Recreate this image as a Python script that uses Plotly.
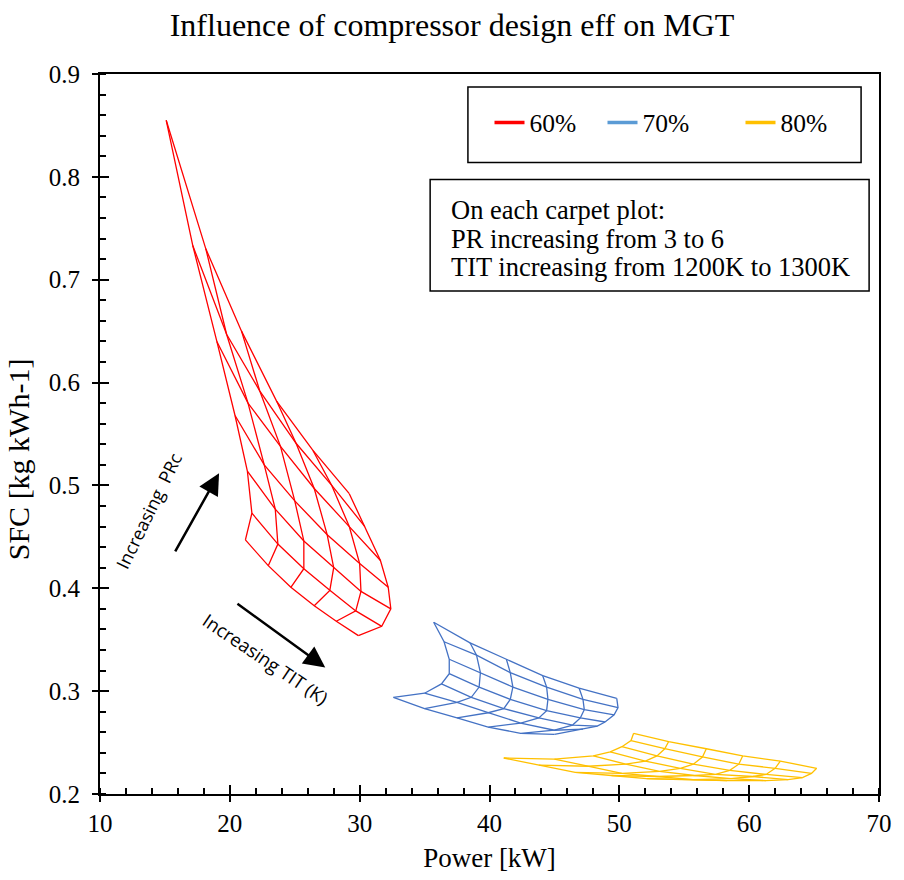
import plotly.graph_objects as go

PR_LEVELS = [3, 3.5, 4, 4.5, 5, 5.5, 6]
TIT_LEVELS = [1200, 1220, 1240, 1260, 1280, 1300]

# 60 % compressor efficiency (rows: PR 3 -> 6, columns: TIT 1200 -> 1300 K)
red_power = [
    [21.2, 22.96, 24.7, 26.5, 28.2, 29.9],
    [21.7, 23.7, 25.7, 27.7, 29.7, 31.7],
    [21.35, 23.5, 25.7, 28.0, 30.1, 32.4],
    [20.4, 22.65, 25.0, 27.5, 30.0, 32.2],
    [19.0, 21.4, 23.9, 26.5, 29.2, 31.6],
    [17.15, 19.75, 22.3, 25.1, 27.85, 30.4],
    [15.1, 18.15, 20.9, 23.6, 26.4, 29.2],
]
red_sfc = [
    [0.447, 0.422, 0.401, 0.383, 0.368, 0.354],
    [0.473, 0.443, 0.419, 0.398, 0.378, 0.363],
    [0.514, 0.477, 0.446, 0.420, 0.397, 0.380],
    [0.568, 0.520, 0.485, 0.452, 0.424, 0.401],
    [0.640, 0.580, 0.538, 0.497, 0.460, 0.427],
    [0.733, 0.647, 0.592, 0.541, 0.500, 0.460],
    [0.855, 0.730, 0.650, 0.582, 0.534, 0.492],
]

# 70 %
blue_power = [
    [32.6, 35.0, 37.5, 39.9, 42.4, 45.0],
    [35.0, 37.5, 39.9, 42.4, 45.0, 47.2],
    [36.3, 38.6, 41.1, 43.8, 46.4, 48.3],
    [36.9, 39.2, 41.6, 44.4, 47.0, 48.9],
    [36.9, 39.3, 41.8, 44.5, 47.3, 49.6],
    [36.5, 39.0, 41.6, 44.4, 47.2, 49.9],
    [35.7, 38.5, 41.3, 44.1, 46.9, 49.8],
]
blue_sfc = [
    [0.294, 0.283, 0.274, 0.265, 0.259, 0.258],
    [0.298, 0.289, 0.279, 0.269, 0.262, 0.263],
    [0.307, 0.294, 0.283, 0.274, 0.267, 0.266],
    [0.317, 0.304, 0.292, 0.281, 0.274, 0.270],
    [0.331, 0.318, 0.304, 0.292, 0.282, 0.277],
    [0.348, 0.335, 0.318, 0.304, 0.292, 0.284],
    [0.367, 0.347, 0.331, 0.315, 0.303, 0.293],
]

# 80 %
yellow_power = [
    [41.1, 43.8, 46.6, 49.4, 52.1, 54.8],
    [45.0, 47.6, 50.2, 52.9, 55.7, 58.3],
    [48.0, 50.5, 53.1, 55.8, 58.6, 61.3],
    [49.3, 52.0, 54.7, 57.4, 60.3, 63.0],
    [50.2, 52.9, 55.7, 58.5, 61.3, 64.1],
    [50.9, 53.5, 56.4, 59.2, 62.0, 64.8],
    [51.1, 53.8, 56.7, 59.5, 62.4, 65.2],
]
yellow_sfc = [
    [0.235, 0.228, 0.221, 0.218, 0.215, 0.214],
    [0.234, 0.227, 0.220, 0.217, 0.214, 0.213],
    [0.237, 0.229, 0.222, 0.218, 0.215, 0.213],
    [0.241, 0.232, 0.225, 0.219, 0.217, 0.214],
    [0.246, 0.237, 0.229, 0.223, 0.219, 0.216],
    [0.252, 0.244, 0.236, 0.229, 0.225, 0.220],
    [0.259, 0.251, 0.244, 0.237, 0.232, 0.225],
]

SERIES = [
    ("60%", red_power, red_sfc, "#FF0000", "#FF0000", 68),
    ("70%", blue_power, blue_sfc, "#4472C4", "#5B9BD5", 93),
    ("80%", yellow_power, yellow_sfc, "#FFC000", "#FFC000", 60),
]

SERIF = "Liberation Serif, Times New Roman, serif"
SANS = "Open Sans, Noto Sans, sans-serif"


def grid_lines(px, py):
    xs, ys = [], []
    nr, nc = len(px), len(px[0])
    for i in range(nr):
        xs += list(px[i]) + [None]
        ys += list(py[i]) + [None]
    for j in range(nc):
        xs += [px[i][j] for i in range(nr)] + [None]
        ys += [py[i][j] for i in range(nr)] + [None]
    return xs, ys


fig = go.Figure()
for name, p, s, col, legcol, lw in SERIES:
    xs, ys = grid_lines(p, s)
    fig.add_trace(go.Scatter(x=xs, y=ys, mode="lines", line=dict(color=col, width=1.3),
                             showlegend=False, hoverinfo="skip"))
for name, p, s, col, legcol, lw in SERIES:
    fig.add_trace(go.Scatter(x=[None], y=[None], mode="lines", name=name,
                             line=dict(color=legcol, width=3.5), legendwidth=lw))

# overlay axes for crossing major ticks
fig.add_trace(go.Scatter(x=[None], y=[None], xaxis="x2", yaxis="y2", showlegend=False))

fig.update_layout(
    width=904, height=880,
    margin=dict(l=100, r=19, t=74, b=83),
    paper_bgcolor="white", plot_bgcolor="white",
    title=dict(text="Influence of compressor design eff on MGT", x=0.5, xanchor="center",
               y=0.972, yanchor="middle", font=dict(family=SERIF, size=32, color="black")),
    font=dict(family=SERIF, size=24, color="black"),
    xaxis=dict(range=[10, 70], dtick=10, showgrid=False, zeroline=False,
               showline=True, linecolor="black", linewidth=2, mirror=True,
               ticks="outside", ticklen=6, tickwidth=2, tickcolor="black",
               minor=dict(ticks="inside", ticklen=6, dtick=2, tickwidth=1.5, tickcolor="black"),
               title=dict(text="Power [kW]", standoff=12,
                          font=dict(family=SERIF, size=27, color="black")),
               tickfont=dict(family=SERIF, size=25, color="black")),
    yaxis=dict(range=[0.2, 0.9], dtick=0.1, tickformat=".1f", showgrid=False, zeroline=False,
               showline=True, linecolor="black", linewidth=2, mirror=True,
               ticks="outside", ticklen=6, tickwidth=2, tickcolor="black",
               ticklabelstandoff=7,
               minor=dict(ticks="inside", ticklen=6, dtick=0.02, tickwidth=1.5, tickcolor="black"),
               tickfont=dict(family=SERIF, size=25, color="black")),
    xaxis2=dict(range=[10, 70], dtick=10, overlaying="x", showgrid=False, zeroline=False,
                ticks="inside", ticklen=9, tickwidth=2, tickcolor="black",
                showticklabels=False, showline=False),
    yaxis2=dict(range=[0.2, 0.9], dtick=0.1, overlaying="y", showgrid=False, zeroline=False,
                ticks="inside", ticklen=9, tickwidth=2, tickcolor="black",
                showticklabels=False, showline=False),
    legend=dict(orientation="h", x=0.5, xanchor="left", y=0.932, yanchor="middle",
                bgcolor="rgba(0,0,0,0)", borderwidth=0, itemwidth=30,
                font=dict(family=SERIF, size=25.5, color="black")),
    showlegend=True,
)

# y-axis title
fig.add_annotation(text="SFC [kg kWh-1]", xref="paper", yref="paper", x=-0.1052, y=0.465,
                   xanchor="center", yanchor="middle", textangle=-90, showarrow=False,
                   font=dict(family=SERIF, size=30, color="black"))

# legend frame and note frame
fig.add_shape(type="rect", xref="paper", yref="paper", x0=0.4723, x1=0.977, y0=0.877, y1=0.982,
              line=dict(color="black", width=1.5), fillcolor="rgba(0,0,0,0)")
fig.add_shape(type="rect", xref="paper", yref="paper", x0=0.4238, x1=0.9873, y0=0.6985, y1=0.8534,
              line=dict(color="black", width=1.5), fillcolor="rgba(0,0,0,0)")

NOTE_LINES = ["On each carpet plot:", "PR increasing from 3 to 6",
              "TIT increasing from 1200K to 1300K"]
for txt, yy in zip(NOTE_LINES, [0.8105, 0.7704, 0.7317]):
    fig.add_annotation(text=txt, xref="paper", yref="paper", x=0.448, y=yy,
                       xanchor="left", yanchor="middle", showarrow=False,
                       font=dict(family=SERIF, size=26.5, color="black"))

# direction arrows
fig.add_annotation(x=19.17, y=0.5118, ax=15.73, ay=0.4344, xref="x", yref="y",
                   axref="x", ayref="y", text="", showarrow=True,
                   arrowhead=2, arrowsize=1.7, arrowwidth=2.5, arrowcolor="black")
fig.add_annotation(x=27.35, y=0.323, ax=20.47, ay=0.386, xref="x", yref="y",
                   axref="x", ayref="y", text="", showarrow=True,
                   arrowhead=2, arrowsize=1.7, arrowwidth=2.5, arrowcolor="black")
fig.add_annotation(x=13.75, y=0.475, xref="x", yref="y", text="Increasing  PRc",
                   textangle=-64, showarrow=False,
                   font=dict(family=SANS, size=18, color="black"))
fig.add_annotation(x=22.75, y=0.332, xref="x", yref="y", text="Increasing TIT (K)",
                   textangle=34, showarrow=False,
                   font=dict(family=SANS, size=18.5, color="black"))

fig.write_html("out.html")
